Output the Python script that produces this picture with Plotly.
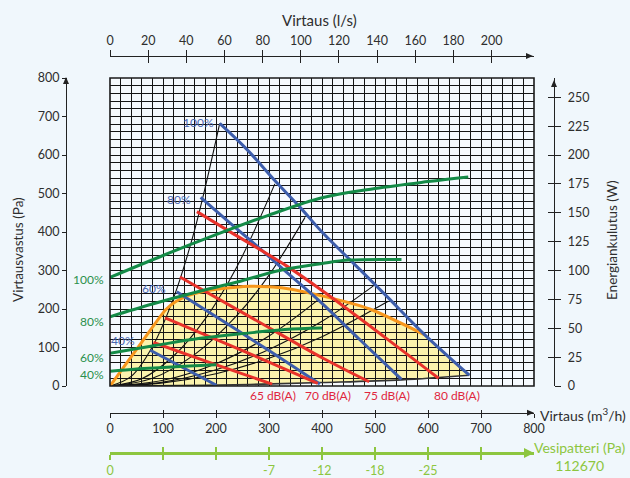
import plotly.graph_objects as go

# ---------------- data ----------------
flow_ticks = [0, 100, 200, 300, 400, 500, 600, 700, 800]            # m3/h
flow_ls_ticks = [0, 20, 40, 60, 80, 100, 120, 140, 160, 180, 200]    # l/s
pressure_ticks = [0, 100, 200, 300, 400, 500, 600, 700, 800]         # Pa
power_ticks = [0, 25, 50, 75, 100, 125, 150, 175, 200, 225, 250]     # W
vesi_tickvals = [0, 100, 200, 300, 400, 500, 600, 700]               # tick marks
vesi_labelvals = [0, 300, 400, 500, 600]                             # labelled ticks
vesi_labels = ["0", "-7", "-12", "-18", "-25"]

# fan curves (blue), flow m3/h vs pressure Pa
fan100_x = [207, 260, 310, 360, 400, 460, 520, 594, 678]
fan100_y = [682, 612, 535, 462, 400, 318, 236, 133, 28]
fan80_x = [171, 236, 277, 327, 396, 470, 550]
fan80_y = [490, 412, 364, 303, 220, 122, 17]
fan60_x = [126, 239, 320, 396]
fan60_y = [245, 146, 74, 5]
fan40_x = [76, 140, 201]
fan40_y = [93, 46, 2]

# sound level lines (red)
db65_x = [82, 190, 306]
db65_y = [113, 60, 5]
db70_x = [104, 250, 392]
db70_y = [177, 92, 7]
db75_x = [132, 270, 402, 489]
db75_y = [283, 175, 72, 11]
db80_x = [164, 226, 333, 406, 520, 620]
db80_y = [453, 401, 312, 242, 125, 20]

# power consumption (green), flow m3/h vs W
pow100_x = [0, 100, 200, 300, 400, 500, 600, 676]
pow100_w = [94, 113, 131, 148, 163, 171, 177, 181]
pow80_x = [0, 80, 160, 240, 320, 400, 450, 550]
pow80_w = [60, 71, 81, 90, 100, 106, 109, 109.5]
pow60_x = [0, 85, 170, 264, 330, 400]
pow60_w = [28.3, 35, 41.3, 46, 49, 50.3]
pow40_x = [0, 50, 100, 150, 201]
pow40_w = [12.7, 14.7, 16, 17.3, 18.3]

# operating limit (orange) and lower boundary
limit_x = [0, 60, 105, 125, 150, 200, 265, 330, 400, 490, 594]
limit_y = [0, 114, 198, 220, 236, 251, 259, 254, 234, 200, 133]
floor_x = [0, 132, 264, 400, 550, 678]
floor_y = [0, 1, 4, 9, 16, 28]

# system curves (thin black)
sys1_x = [0, 40, 80, 120, 160, 207]
sys1_y = [0, 25, 102, 229, 407, 682]
sys2_x = [0, 60, 120, 180, 240, 311]
sys2_y = [0, 19, 78, 175, 311, 525]
sys3_x = [0, 80, 160, 240, 300, 368]
sys3_y = [0, 20, 82, 184, 288, 438]
sys4_x = [0, 100, 200, 300, 392]
sys4_y = [0, 15, 58, 130, 223]
sys5_x = [0, 100, 200, 300, 400, 497]
sys5_y = [0, 10, 42, 95, 168, 260]
sys6_x = [0, 100, 200, 300, 400, 525]
sys6_y = [0, 8, 32, 72, 128, 220]

fan_labels = ["100%", "80%", "60%", "40%"]
pow_labels = ["100%", "80%", "60%", "40%"]
db_labels = ["65 dB(A)", "70 dB(A)", "75 dB(A)", "80 dB(A)"]

# ---------------- styling ----------------
W, H = 630, 478
FONT = "Lato, Roboto, sans-serif"
TXT = "#2e2e2e"
BLUE = "#3d5dab"
BLUE_T = "#4a67b2"
RED = "#e8322b"
RED_T = "#e0263e"
GREEN = "#138a47"
GREEN_T = "#2a904c"
ORANGE = "#f7961c"
LIME = "#8dc63f"
FILL = "#fbf3ad"


def px(x):
    return x / W


def py(y):
    return 1 - y / H


fig = go.Figure()

for sx, sy in [(sys1_x, sys1_y), (sys2_x, sys2_y), (sys3_x, sys3_y),
               (sys4_x, sys4_y), (sys5_x, sys5_y), (sys6_x, sys6_y)]:
    fig.add_trace(go.Scatter(x=sx, y=sy, mode="lines",
                             line=dict(color="#111111", width=1.1, shape="spline"),
                             hoverinfo="skip", showlegend=False))
fig.add_trace(go.Scatter(x=floor_x, y=floor_y, mode="lines",
                         line=dict(color="#333333", width=1.6, shape="spline"),
                         hoverinfo="skip", showlegend=False))

fig.add_trace(go.Scatter(x=limit_x, y=limit_y, mode="lines",
                         line=dict(color=ORANGE, width=3, shape="spline", smoothing=0.6),
                         hoverinfo="skip", showlegend=False))

for gx, gw in [(pow100_x, pow100_w), (pow80_x, pow80_w), (pow60_x, pow60_w), (pow40_x, pow40_w)]:
    fig.add_trace(go.Scatter(x=gx, y=gw, yaxis="y3", mode="lines",
                             line=dict(color=GREEN, width=3, shape="spline"),
                             hoverinfo="skip", showlegend=False))

for bx, by in [(fan100_x, fan100_y), (fan80_x, fan80_y), (fan60_x, fan60_y), (fan40_x, fan40_y)]:
    fig.add_trace(go.Scatter(x=bx, y=by, mode="lines",
                             line=dict(color=BLUE, width=3, shape="spline"),
                             hoverinfo="skip", showlegend=False))

for rx, ry in [(db65_x, db65_y), (db70_x, db70_y), (db75_x, db75_y), (db80_x, db80_y)]:
    fig.add_trace(go.Scatter(x=rx, y=ry, mode="lines",
                             line=dict(color=RED, width=3, shape="spline"),
                             hoverinfo="skip", showlegend=False))

# empty traces so that every decorative axis gets drawn
for xa, ya in [("x2", "y"), ("x3", "y"), ("x4", "y"), ("x5", "y"), ("x6", "y"), ("x7", "y"),
               ("x8", "y"), ("x", "y2"), ("x", "y4")]:
    fig.add_trace(go.Scatter(x=[], y=[], xaxis=xa, yaxis=ya, mode="lines",
                             hoverinfo="skip", showlegend=False))

# yellow operating area (below the grid)
pts = list(zip(limit_x, limit_y))
pts += [(x, y) for x, y in zip(fan100_x, fan100_y) if x > limit_x[-1]]
pts += list(zip(floor_x, floor_y))[::-1]
path = "M " + " L ".join(f"{x},{y}" for x, y in pts) + " Z"


def tri(points, color):
    p = "M " + " L ".join(f"{px(a):.5f},{py(b):.5f}" for a, b in points) + " Z"
    return dict(type="path", path=p, xref="paper", yref="paper", fillcolor=color,
                line=dict(width=0), layer="above")


shapes = [
    dict(type="path", path=path, xref="x", yref="y", fillcolor=FILL,
         line=dict(width=0), layer="below"),
    dict(type="rect", xref="x domain", yref="y domain", x0=0, x1=1, y0=0, y1=1,
         line=dict(color="#1a1a1a", width=1.6), layer="above"),
    # axis arrow heads
    tri([(63, 84), (69, 84), (66, 77)], "#222222"),
    tri([(551, 87), (557, 87), (554, 80)], "#222222"),
    tri([(526, 53), (526, 59), (533, 56)], "#222222"),
    tri([(527, 409.7), (527, 415.7), (534, 412.7)], "#222222"),
    tri([(524, 448), (524, 458), (534, 453)], LIME),
]

grid = dict(showgrid=True, gridcolor="#151515", gridwidth=1, tick0=0, dtick=20,
            showticklabels=False, ticks="", zeroline=False, showline=False,
            fixedrange=True)

tickfont = dict(family=FONT, size=12.5, color=TXT)
axis_common = dict(showgrid=False, zeroline=False, showline=True, linecolor="#222222",
                   linewidth=1.2, tickcolor="#222222", tickwidth=1, fixedrange=True,
                   tickfont=tickfont, tickmode="array")

layout = dict(
    width=W, height=H, autosize=False,
    margin=dict(l=0, r=0, t=0, b=0, autoexpand=False),
    paper_bgcolor="#f0f7fc", plot_bgcolor="#f6fafe",
    showlegend=False, hovermode=False,
    font=dict(family=FONT, color=TXT),
    xaxis=dict(domain=[px(110), px(534)], range=[0, 800], **grid),
    yaxis=dict(domain=[py(386), py(78)], range=[0, 800], **grid),
    # bottom flow axis m3/h
    xaxis2=dict(overlaying="x", anchor="free", position=py(412.7), range=[0, 800],
                tickvals=flow_ticks, ticks="outside", ticklen=4, **axis_common),
    xaxis3=dict(overlaying="x", anchor="free", position=py(412.7), range=[0, 800],
                tickvals=flow_ticks, ticks="inside", ticklen=3, showticklabels=False,
                **axis_common),
    # top flow axis l/s
    xaxis4=dict(overlaying="x", side="top", anchor="free", position=py(56),
                range=[0, 800 / 3.6], tickvals=flow_ls_ticks, ticks="outside", ticklen=6,
                **axis_common),
    xaxis5=dict(overlaying="x", side="top", anchor="free", position=py(56),
                range=[0, 800 / 3.6], tickvals=flow_ls_ticks, ticks="inside", ticklen=6,
                showticklabels=False, **axis_common),
    # left pressure axis
    yaxis2=dict(overlaying="y", anchor="free", position=px(66), side="left",
                range=[0, 800], tickvals=pressure_ticks, ticks="outside", ticklen=4,
                **axis_common),
    # right power axis
    yaxis3=dict(overlaying="y", anchor="free", position=px(554), side="right",
                range=[0, 800 / 3], tickvals=power_ticks, ticks="outside", ticklen=6,
                ticklabelstandoff=4, **axis_common),
    yaxis4=dict(overlaying="y", anchor="free", position=px(554), side="right",
                range=[0, 800 / 3], tickvals=power_ticks, ticks="inside", ticklen=6,
                showticklabels=False, **axis_common),
)

vesi_common = dict(showgrid=False, zeroline=False, showline=True, linecolor=LIME,
                   linewidth=2.5, tickwidth=2, fixedrange=True, tickmode="array",
                   overlaying="x", anchor="free", position=py(453), range=[0, 800],
                   tickfont=dict(family=FONT, size=12.5, color=LIME))
layout["xaxis6"] = dict(tickvals=vesi_labelvals, ticktext=vesi_labels, ticks="outside",
                        ticklen=5, tickcolor="rgba(0,0,0,0)", **vesi_common)
layout["xaxis7"] = dict(tickvals=vesi_tickvals, ticks="outside", ticklen=5, tickcolor=LIME,
                        showticklabels=False, **vesi_common)
layout["xaxis8"] = dict(tickvals=vesi_tickvals, ticks="inside", ticklen=5, tickcolor=LIME,
                        showticklabels=False, **vesi_common)

ann = []


def text(x, y, s, size=15, color=TXT, xanchor="center", angle=0, align="center"):
    ann.append(dict(x=px(x), y=py(y), xref="paper", yref="paper", text=s, showarrow=False,
                    xanchor=xanchor, yanchor="middle", textangle=angle, align=align,
                    font=dict(family=FONT, size=size, color=color)))


text(319, 20, "Virtaus (l/s)")
text(18, 250, "Virtausvastus (Pa)", size=13.5, angle=-90)
text(612, 241, "Energiankulutus (W)", size=13.5, angle=-90)
text(538, 414, "Virtaus (m<sup>3</sup>/h)", size=14, xanchor="left")
text(580, 456, "Vesipatteri (Pa)<br>112670", size=14, color=LIME)

# blue fan labels (placed left of each curve start)
for lab, (lx, ly) in zip(fan_labels, [(216, 123), (193, 199), (168, 288), (137, 340)]):
    text(lx, ly, lab, size=12, color=BLUE_T, xanchor="right")
# green power labels
for lab, ly in zip(pow_labels, [279, 321, 357, 374]):
    text(106, ly, lab, size=12, color=GREEN_T, xanchor="right")
# red sound labels
for lab, lx in zip(db_labels, [272.5, 327.5, 386.5, 457]):
    text(lx, 395, lab, size=12, color=RED_T)

layout["annotations"] = ann
layout["shapes"] = shapes
fig.update_layout(**layout)

post = (
    "document.documentElement.style.margin='0';"
    "document.documentElement.style.overflow='hidden';"
    "document.body.style.margin='0';"
    "document.body.style.overflow='hidden';"
    "var d=document.getElementById('{plot_id}');"
    "d.style.position='fixed';d.style.left='0px';d.style.top='0px';"
)
fig.write_html("out.html", config={"displayModeBar": False, "staticPlot": True},
               post_script=post)
